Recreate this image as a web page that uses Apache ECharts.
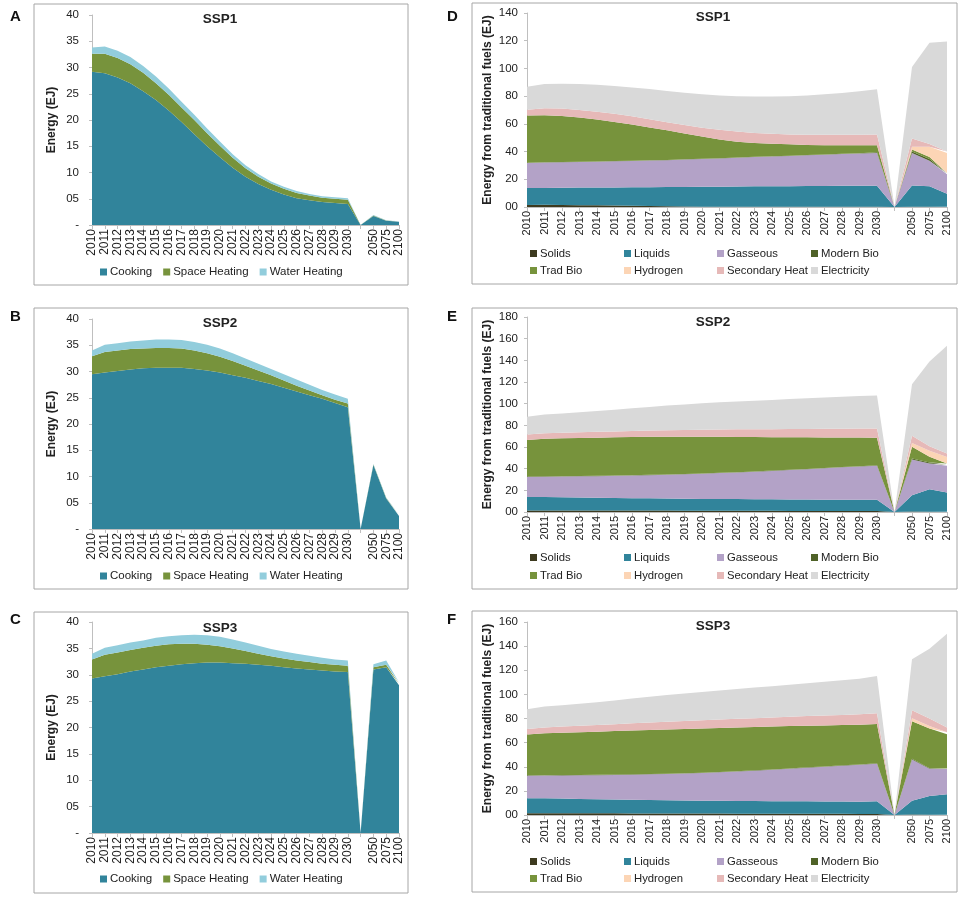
<!DOCTYPE html>
<html>
<head>
<meta charset="utf-8">
<script src="https://cdn.jsdelivr.net/npm/echarts@6/dist/echarts.min.js"></script>
<style>
  html, body { margin: 0; padding: 0; background: #fff; }
  #chart { width: 962px; height: 897px; }
</style>
</head>
<body>
<div id="chart"></div>
<script>
// categories: yearly to 2030, a gap, then 2050 / 2075 / 2100
const years = ["2010","2011","2012","2013","2014","2015","2016","2017","2018","2019","2020",
  "2021","2022","2023","2024","2025","2026","2027","2028","2029","2030","","2050","2075","2100"];

// A-C: end uses (EJ)
const cookingSSP1 = [29.2,28.9,28.1,27.0,25.5,23.8,21.8,19.6,17.3,15.0,12.9,10.9,9.2,7.8,6.7,5.8,5.1,4.7,4.4,4.2,4.0,0,1.7,0.8,0.6];
const spaceSSP1   = [3.4,3.7,3.7,3.6,3.5,3.2,3.0,2.8,2.7,2.5,2.2,1.9,1.6,1.4,1.2,1.1,1.0,0.9,0.8,0.8,0.8,0,0.1,0.05,0.05];
const waterSSP1   = [1.2,1.4,1.4,1.4,1.3,1.3,1.2,1.1,1.0,0.9,0.8,0.7,0.6,0.5,0.4,0.4,0.4,0.3,0.3,0.3,0.3,0,0.1,0.05,0.05];

const cookingSSP2 = [29.5,29.8,30.1,30.4,30.6,30.7,30.7,30.7,30.5,30.2,29.8,29.3,28.8,28.2,27.6,26.9,26.2,25.5,24.8,24.0,23.2,0,12.2,5.8,2.5];
const spaceSSP2   = [3.4,3.9,3.9,3.9,3.8,3.8,3.8,3.7,3.5,3.3,3.0,2.7,2.3,2.0,1.7,1.4,1.1,0.9,0.7,0.6,0.7,0,0.1,0.1,0.1];
const waterSSP2   = [1.1,1.4,1.4,1.4,1.5,1.6,1.6,1.6,1.6,1.6,1.6,1.5,1.4,1.3,1.2,1.2,1.2,1.1,1.0,1.0,0.9,0,0.1,0.1,0.1];

const cookingSSP3 = [29.3,29.7,30.1,30.6,31.0,31.4,31.7,32.0,32.2,32.3,32.3,32.2,32.1,31.9,31.7,31.4,31.2,31.0,30.8,30.6,30.5,0,31.0,31.4,28.0];
const spaceSSP3   = [3.6,4.1,4.1,4.1,4.1,4.1,4.1,3.9,3.7,3.4,3.1,2.8,2.4,2.1,1.8,1.7,1.5,1.4,1.3,1.3,1.2,0,0.4,0.5,0.3];
const waterSSP3   = [1.1,1.3,1.4,1.4,1.4,1.5,1.5,1.6,1.7,1.8,1.8,1.7,1.6,1.5,1.4,1.3,1.3,1.2,1.1,1.0,1.0,0,0.6,0.8,0.3];

// D-F: fuels (EJ)
const solidsSSP1   = [1.5,1.6,1.4,1.3,1.2,1.1,0.9,0.7,0.5,0.3,0.2,0.1,0.1,0.1,0.1,0.1,0.1,0.1,0.1,0.1,0.1,0,0.1,0.1,0.1];
const liquidsSSP1  = [12.2,12.2,12.5,12.7,12.8,13.0,13.3,13.6,13.9,14.2,14.4,14.6,14.7,14.8,14.9,14.9,15.0,15.1,15.2,15.2,15.3,0,15.4,14.9,9.5];
const gasSSP1      = [18.1,18.3,18.4,18.5,18.7,18.9,19.0,19.2,19.4,19.7,20.0,20.3,20.7,21.1,21.4,21.8,22.2,22.5,22.9,23.3,23.6,0,23.5,18.4,14.0];
const modBioSSP1   = [0.2,0.2,0.2,0.2,0.2,0.2,0.2,0.2,0.2,0.2,0.2,0.2,0.2,0.2,0.2,0.2,0.2,0.2,0.2,0.2,0.5,0,1.0,1.2,0.6];
const tradBioSSP1  = [34.1,34.0,33.1,31.9,30.2,28.2,26.1,23.7,21.3,18.6,16.0,13.5,11.4,10.0,9.0,8.2,7.3,6.7,6.1,5.7,5.1,0,1.5,1.4,0.3];
const hydrogenSSP1 = [0,0,0,0,0,0,0,0,0,0,0,0,0,0,0,0,0,0,0,0,0,0,2.0,7.5,14.5];
const secHeatSSP1  = [4.1,5.0,5.4,5.4,5.7,5.9,5.9,5.9,5.9,6.1,6.4,7.0,7.3,7.2,7.2,7.2,7.4,7.6,7.7,7.7,7.8,0,6.0,2.0,1.0];
const elecSSP1     = [16.6,17.5,18.0,18.8,19.5,20.1,20.9,21.8,22.6,23.3,24.1,24.8,25.6,26.3,26.9,27.6,28.3,29.1,30.1,31.3,32.6,0,51.5,73.0,79.5];

const solidsSSP2   = [1.5,1.5,1.5,1.4,1.4,1.4,1.3,1.3,1.3,1.2,1.2,1.2,1.1,1.1,1.1,1.0,1.0,1.0,1.0,0.9,0.9,0,0.5,0.3,0.2];
const liquidsSSP2  = [12.4,12.4,12.2,12.0,11.8,11.6,11.5,11.3,11.1,11.0,10.9,10.8,10.8,10.7,10.6,10.6,10.5,10.4,10.3,10.3,10.4,0,14.9,20.7,17.7];
const gasSSP2      = [18.5,18.7,19.0,19.5,19.9,20.4,20.9,21.4,22.0,22.6,23.2,23.9,24.6,25.4,26.2,27.1,28.0,29.0,29.9,30.8,31.5,0,33.1,23.8,24.7];
const modBioSSP2   = [0.3,0.3,0.3,0.3,0.3,0.3,0.3,0.3,0.3,0.3,0.3,0.3,0.3,0.3,0.3,0.3,0.3,0.3,0.3,0.3,0.4,0,0.8,1.0,1.0];
const tradBioSSP2  = [33.7,34.7,35.0,35.1,35.2,35.2,35.2,35.1,34.8,34.4,33.9,33.2,32.5,31.7,30.9,30.0,29.1,28.1,27.2,26.4,25.4,0,10.9,5.2,1.2];
const hydrogenSSP2 = [0,0,0,0,0,0,0,0,0,0,0,0,0,0,0,0,0,0,0,0,0,0,3.5,5.5,6.0];
const secHeatSSP2  = [5.2,5.2,5.2,5.3,5.4,5.5,5.6,5.8,6.0,6.3,6.5,6.7,7.0,7.2,7.4,7.6,7.8,8.0,8.2,8.3,8.4,0,6.7,4.3,3.2];
const elecSSP2     = [16.4,17.3,17.8,18.4,19.2,20.1,21.0,21.8,22.7,23.5,24.3,25.1,25.7,26.4,27.0,27.7,28.3,28.9,29.5,30.0,30.5,0,47.6,78.2,99.4];

const solidsSSP3   = [1.5,1.5,1.5,1.4,1.4,1.4,1.3,1.3,1.3,1.2,1.2,1.2,1.1,1.1,1.1,1.0,1.0,1.0,1.0,0.9,0.9,0,0.5,0.3,0.2];
const liquidsSSP3  = [12.3,12.3,12.1,11.9,11.6,11.4,11.3,11.1,10.9,10.8,10.7,10.6,10.6,10.5,10.4,10.4,10.3,10.2,10.1,10.1,10.4,0,11.4,15.4,16.9];
const gasSSP3      = [18.8,18.9,19.2,19.6,20.0,20.4,20.8,21.3,21.8,22.4,22.9,23.6,24.3,25.1,26.0,26.9,27.9,28.8,29.8,30.6,31.2,0,34.2,22.6,21.0];
const modBioSSP3   = [0.3,0.3,0.3,0.3,0.3,0.3,0.3,0.3,0.3,0.3,0.3,0.3,0.3,0.3,0.3,0.3,0.3,0.3,0.3,0.3,0.3,0,0.5,0.5,0.5];
const tradBioSSP3  = [33.9,34.7,35.0,35.4,35.7,36.1,36.4,36.5,36.6,36.6,36.6,36.4,36.2,35.9,35.5,35.1,34.5,34.0,33.4,33.0,32.7,0,31.2,32.9,28.4];
const hydrogenSSP3 = [0,0,0,0,0,0,0,0,0,0,0,0,0,0,0,0,0,0,0,0,0,0,2.5,2.0,1.5];
const secHeatSSP3  = [4.4,4.9,5.2,5.4,5.6,5.7,5.9,6.2,6.4,6.6,6.8,7.0,7.2,7.4,7.6,7.8,8.0,8.2,8.4,8.6,8.9,0,6.6,6.3,4.1];
const elecSSP3     = [16.5,17.4,17.7,18.2,18.9,19.7,20.5,21.3,22.2,22.9,23.5,24.1,24.7,25.3,25.9,26.5,27.2,28.0,28.8,29.5,30.9,0,42.2,57.9,77.7];

const useNames  = ["Cooking","Space Heating","Water Heating"];
const fuelNames = ["Solids","Liquids","Gasseous","Modern Bio","Trad Bio","Hydrogen","Secondary Heat","Electricity"];
const scenarios = ["SSP1","SSP2","SSP3"];
const panelLetters = ["A","B","C","D","E","F"];

const useColors  = ["#31849b","#77933c","#92cddc"];
const fuelColors = ["#3d3a1f","#31849b","#b3a2c7","#4f6228","#77933c","#fcd5b5","#e6b9b8","#d9d9d9"];

const useData = [
  [cookingSSP1, spaceSSP1, waterSSP1],
  [cookingSSP2, spaceSSP2, waterSSP2],
  [cookingSSP3, spaceSSP3, waterSSP3]
];
const fuelData = [
  [solidsSSP1, liquidsSSP1, gasSSP1, modBioSSP1, tradBioSSP1, hydrogenSSP1, secHeatSSP1, elecSSP1],
  [solidsSSP2, liquidsSSP2, gasSSP2, modBioSSP2, tradBioSSP2, hydrogenSSP2, secHeatSSP2, elecSSP2],
  [solidsSSP3, liquidsSSP3, gasSSP3, modBioSSP3, tradBioSSP3, hydrogenSSP3, secHeatSSP3, elecSSP3]
];
const fuelMax = [140, 180, 160];

const FONT = "Liberation Sans";
const chart = echarts.init(document.getElementById("chart"));

// panel geometry
const leftGrids  = [{top:15, h:210}, {top:319, h:210}, {top:622, h:211}];
const rightGrids = [{top:13, h:194}, {top:317, h:195}, {top:622, h:193}];
const leftBoxes  = [{y:4, h:281}, {y:308, h:281}, {y:612, h:281}];
const rightBoxes = [{y:3, h:281}, {y:308, h:281}, {y:611, h:281}];
const leftTitleTop  = [12, 316, 621];
const rightTitleTop = [10, 315, 619];
const legendRowsLeft = [261, 565, 868];
const legendRowsRight = [[243, 260], [547, 565], [851, 868]];
const letterY = [9, 309, 612];

let grid = [], xAxis = [], yAxis = [], series = [], title = [], legend = [], graphic = [];

function axisX(gi, fs) {
  return {
    type: "category", gridIndex: gi, data: years, boundaryGap: false,
    axisLine: {lineStyle: {color: "#bfbfbf"}},
    axisTick: {show: true, length: 4, lineStyle: {color: "#bfbfbf"}},
    axisLabel: {rotate: 90, interval: 0, fontFamily: FONT, fontSize: fs, color: "#222", margin: 4}
  };
}

for (let p = 0; p < 3; p++) {
  // left panel (end uses)
  let gi = grid.length;
  grid.push({left: 92, top: leftGrids[p].top, width: 307, height: leftGrids[p].h});
  xAxis.push(axisX(gi, 12));
  yAxis.push({
    type: "value", gridIndex: gi, min: 0, max: 40, interval: 5,
    name: "Energy (EJ)", nameLocation: "middle", nameGap: 34,
    nameTextStyle: {fontFamily: FONT, fontSize: 12, fontWeight: "bold", color: "#222"},
    axisLine: {show: true, lineStyle: {color: "#bfbfbf"}},
    axisTick: {show: true, length: 3, lineStyle: {color: "#bfbfbf"}},
    splitLine: {show: false},
    axisLabel: {fontFamily: FONT, fontSize: 11.5, color: "#222", margin: 13,
      formatter: v => v === 0 ? "-" : (v < 10 ? "0" + v : String(v))}
  });
  useNames.forEach((n, i) => {
    series.push({
      name: n, type: "line", xAxisIndex: gi, yAxisIndex: gi, stack: "use" + p,
      data: useData[p][i], symbol: "none", lineStyle: {width: 0},
      areaStyle: {color: useColors[i], opacity: 1}, color: useColors[i], silent: true
    });
  });
  title.push({text: scenarios[p], left: 220, top: leftTitleTop[p], textAlign: "center", padding: 0,
    textStyle: {fontFamily: FONT, fontSize: 13.5, fontWeight: "bold", color: "#222"}});
  legend.push({
    data: useNames, left: 95, top: legendRowsLeft[p], itemWidth: 7, itemHeight: 7, itemGap: 11,
    icon: "rect", textStyle: {fontFamily: FONT, fontSize: 11.5, color: "#222", padding: [0, 0, 0, -2]}
  });
  graphic.push({type: "rect", shape: {x: 34, y: leftBoxes[p].y, width: 374, height: leftBoxes[p].h},
    style: {fill: "none", stroke: "#a6a6a6", lineWidth: 1}, silent: true});
  graphic.push({type: "text", left: 10, top: letterY[p],
    style: {text: panelLetters[p], font: "bold 15px " + FONT, fill: "#111"}});

  // right panel (fuels)
  gi = grid.length;
  grid.push({left: 527, top: rightGrids[p].top, width: 420, height: rightGrids[p].h});
  xAxis.push(axisX(gi, 11));
  yAxis.push({
    type: "value", gridIndex: gi, min: 0, max: fuelMax[p], interval: 20,
    name: "Energy from traditional fuels (EJ)", nameLocation: "middle", nameGap: 33,
    nameTextStyle: {fontFamily: FONT, fontSize: 12, fontWeight: "bold", color: "#222"},
    axisLine: {show: true, lineStyle: {color: "#bfbfbf"}},
    axisTick: {show: true, length: 3, lineStyle: {color: "#bfbfbf"}},
    splitLine: {show: false},
    axisLabel: {fontFamily: FONT, fontSize: 11.5, color: "#222", margin: 9,
      formatter: v => v === 0 ? "00" : String(v)}
  });
  fuelNames.forEach((n, i) => {
    series.push({
      name: n, type: "line", xAxisIndex: gi, yAxisIndex: gi, stack: "fuel" + p,
      data: fuelData[p][i], symbol: "none", lineStyle: {width: 0},
      areaStyle: {color: fuelColors[i], opacity: 1}, color: fuelColors[i], silent: true
    });
  });
  title.push({text: scenarios[p], left: 713, top: rightTitleTop[p], textAlign: "center", padding: 0,
    textStyle: {fontFamily: FONT, fontSize: 13.5, fontWeight: "bold", color: "#222"}});
  const colX = [525, 619, 712, 806];
  fuelNames.forEach((n, i) => {
    legend.push({
      data: [n], left: colX[i % 4], top: legendRowsRight[p][Math.floor(i / 4)],
      itemWidth: 7, itemHeight: 7, icon: "rect",
      textStyle: {fontFamily: FONT, fontSize: 11.3, color: "#222", padding: [0, 0, 0, -2]}
    });
  });
  graphic.push({type: "rect", shape: {x: 472, y: rightBoxes[p].y, width: 485, height: rightBoxes[p].h},
    style: {fill: "none", stroke: "#a6a6a6", lineWidth: 1}, silent: true});
  graphic.push({type: "text", left: 447, top: letterY[p],
    style: {text: panelLetters[p + 3], font: "bold 15px " + FONT, fill: "#111"}});
}

chart.setOption({
  animation: false,
  backgroundColor: "#fff",
  title: title,
  legend: legend,
  grid: grid,
  xAxis: xAxis,
  yAxis: yAxis,
  series: series,
  graphic: graphic
});
</script>
</body>
</html>
